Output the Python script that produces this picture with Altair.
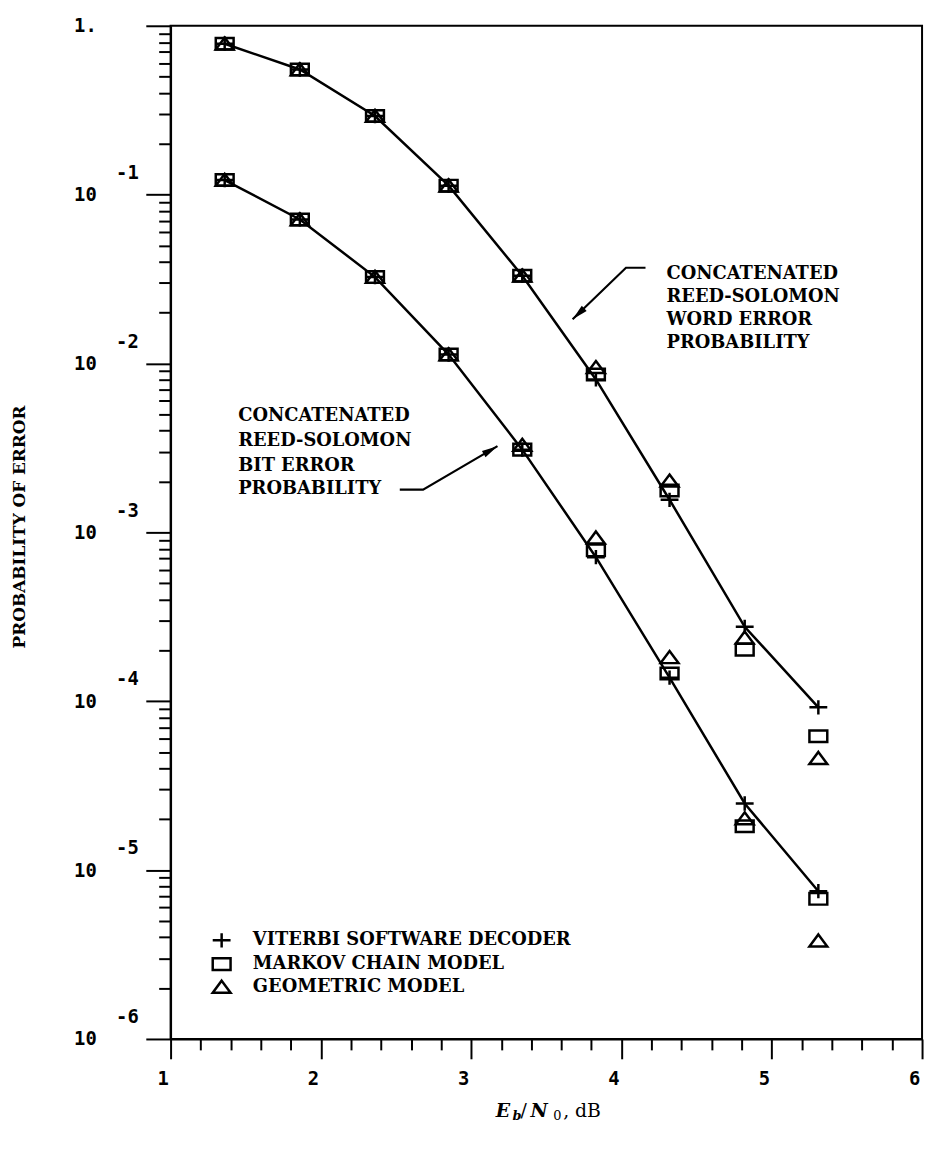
import altair as alt
import pandas as pd

# ---------------- data ----------------
ebn0 = [1.36, 1.86, 2.36, 2.85, 3.34, 3.83, 4.32, 4.82, 5.31]

word_viterbi = [0.783, 0.551, 0.292, 0.113, 0.0331, 8.05e-3, 1.56e-3, 2.76e-4, 9.2e-5]
word_markov = [0.783, 0.551, 0.292, 0.113, 0.0331, 8.6e-3, 1.77e-3, 2.02e-4, 6.2e-5]
word_geometric = [0.783, 0.551, 0.292, 0.113, 0.0331, 9.5e-3, 2.02e-3, 2.38e-4, 4.6e-5]

bit_viterbi = [0.122, 0.0713, 0.0325, 0.0113, 3.09e-3, 7.13e-4, 1.38e-4, 2.48e-5, 7.5e-6]
bit_markov = [0.122, 0.0713, 0.0325, 0.0113, 3.09e-3, 7.83e-4, 1.46e-4, 1.82e-5, 6.76e-6]
bit_geometric = [0.122, 0.0713, 0.0325, 0.0113, 3.29e-3, 9.3e-4, 1.82e-4, 2.02e-5, 3.82e-6]

models = ["VITERBI SOFTWARE DECODER", "MARKOV CHAIN MODEL", "GEOMETRIC MODEL"]

# annotations (data units)
word_note_lines = ["CONCATENATED", "REED-SOLOMON", "WORD ERROR", "PROBABILITY"]
word_note_x = 4.30
word_note_y = [0.0340, 0.0246, 0.0180, 0.0132]
bit_note_lines = ["CONCATENATED", "REED-SOLOMON", "BIT ERROR", "PROBABILITY"]
bit_note_x = 1.45
bit_note_y = [4.86e-3, 3.47e-3, 2.47e-3, 1.81e-3]

word_arrow_x = [4.16, 4.03, 3.675]
word_arrow_y = [0.0369, 0.0369, 0.0183]
word_arrow_angle = 227
bit_arrow_x = [2.525, 2.68, 3.175]
bit_arrow_y = [1.79e-3, 1.79e-3, 3.24e-3]
bit_arrow_angle = 60

# axis tick labels
y_exp_labels = ["-1", "-2", "-3", "-4", "-5", "-6"]
y_exp_values = [1e-1, 1e-2, 1e-3, 1e-4, 1e-5, 1e-6]

# ---------------- tables ----------------
series = {
    ("word", models[0]): word_viterbi,
    ("word", models[1]): word_markov,
    ("word", models[2]): word_geometric,
    ("bit", models[0]): bit_viterbi,
    ("bit", models[1]): bit_markov,
    ("bit", models[2]): bit_geometric,
}
rows = []
for (curve, model), vals in series.items():
    for x, p in zip(ebn0, vals):
        rows.append({"x": x, "p": p, "curve": curve, "model": model})
df = pd.DataFrame(rows)

notes = pd.DataFrame(
    [{"x": word_note_x, "p": y, "t": t} for t, y in zip(word_note_lines, word_note_y)]
    + [{"x": bit_note_x, "p": y, "t": t} for t, y in zip(bit_note_lines, bit_note_y)]
)
arrows = pd.DataFrame(
    [{"a": "word", "i": i, "x": x, "p": y} for i, (x, y) in enumerate(zip(word_arrow_x, word_arrow_y))]
    + [{"a": "bit", "i": i, "x": x, "p": y} for i, (x, y) in enumerate(zip(bit_arrow_x, bit_arrow_y))]
)
heads = pd.DataFrame([
    {"x": word_arrow_x[-1], "p": word_arrow_y[-1], "ang": word_arrow_angle},
    {"x": bit_arrow_x[-1], "p": bit_arrow_y[-1], "ang": bit_arrow_angle},
])
exps = pd.DataFrame({"p": y_exp_values, "t": y_exp_labels})

# ---------------- scales / axes ----------------
PLUS = "M-1,0H1M0,-0.8V0.8"
RECT = "M-1,-0.65H1V0.65H-1Z"
TRI = "M0,-0.7L1,0.65H-1Z"
HEAD = "M0,0L0.45,2L-0.45,2Z"

MONO = "DejaVu Sans Mono"
SERIF = "DejaVu Serif"

y_ticks = [10.0 ** k for k in range(-6, 1)] + [m * 10.0 ** k for k in range(-6, 0) for m in range(2, 10)]
x_ticks = [round(1 + 0.2 * i, 2) for i in range(26)]

is_decade = "abs(log(datum.value)/LN10 - round(log(datum.value)/LN10)) < 0.001"
is_int = "abs(datum.value - round(datum.value)) < 0.001"

xscale = alt.Scale(domain=[1, 6], nice=False, zero=False)
yscale = alt.Scale(type="log", domain=[1e-6, 1], nice=False)

xaxis = alt.Axis(
    values=x_ticks, title=None, grid=False,
    labelExpr=f"{is_int} ? format(round(datum.value), 'd') : ''",
    tickSize={"condition": {"test": is_int, "value": 20}, "value": 11},
    tickColor="black", tickWidth=2, domainColor="black", domainWidth=2,
    labelFont=MONO, labelFontWeight="bold", labelFontSize=19, labelColor="black",
    labelPadding=11, labelOffset=-8, labelOverlap=False, labelFlush=False, labelBound=False,
)
yaxis = alt.Axis(
    values=y_ticks, grid=False,
    labelExpr=f"datum.value > 0.999 ? '1.' : ({is_decade} ? '10' : '')",
    tickSize={"condition": {"test": is_decade, "value": 25}, "value": 12},
    tickColor="black", tickWidth=2, domainColor="black", domainWidth=2,
    labelFont=MONO, labelFontWeight="bold", labelFontSize=19, labelColor="black",
    labelPadding=50, labelOverlap=False, labelFlush=False, labelBound=False,
    labelAlign="right", labelBaseline="middle",
    title="PROBABILITY OF ERROR", titleFont=SERIF, titleFontSize=17, titleFontWeight="bold",
    titleColor="black", titleAngle=270, titleX=-152, titleY=505, titleAlign="center", titleBaseline="middle",
)

X = alt.X("x:Q", scale=xscale, axis=xaxis)
Y = alt.Y("p:Q", scale=yscale, axis=yaxis)

lines = alt.Chart(df).transform_filter(alt.datum.model == models[0]).mark_line(
    color="black", strokeWidth=2.5
).encode(x=X, y=Y, detail="curve:N", order="x:Q")

points = alt.Chart(df).mark_point(
    filled=False, color="black", strokeWidth=2.5, size=324, opacity=1
).encode(
    x=X, y=Y,
    shape=alt.Shape(
        "model:N",
        scale=alt.Scale(domain=models, range=[PLUS, RECT, TRI]),
        legend=alt.Legend(
            orient="none", legendX=41, legendY=912, title=None, padding=0,
            symbolSize=324, symbolStrokeWidth=2.5, symbolStrokeColor="black",
            symbolFillColor="transparent", labelFont=SERIF, labelFontSize=18,
            labelFontWeight="bold", labelColor="black", labelOffset=21, rowPadding=0,
            labelLimit=0,
        ),
    ),
)

note_text = alt.Chart(notes).mark_text(
    align="left", baseline="middle", font=SERIF, fontSize=18, fontWeight="bold", color="black"
).encode(x=X, y=Y, text="t:N")

arrow_lines = alt.Chart(arrows).mark_line(color="black", strokeWidth=2.2).encode(
    x=X, y=Y, detail="a:N", order="i:Q"
)
arrow_heads = alt.Chart(heads).mark_point(
    shape=HEAD, filled=True, color="black", size=256, opacity=1
).encode(x=X, y=Y, angle=alt.Angle("ang:Q", scale=None))

exp_text = alt.Chart(exps).mark_text(
    align="left", baseline="middle", font=MONO, fontWeight="bold", fontSize=19, color="black", dy=-22
).encode(x=alt.value(-55), y=Y, text="t:N")

# x title: E_b/N_0, dB
title_parts = [
    ("E", 328, 19, "italic", "bold", 0),
    ("b", 345, 13, "italic", "bold", 5),
    ("/", 353, 19, "normal", "normal", 0),
    ("N", 363, 19, "italic", "bold", 0),
    ("0", 386, 13, "normal", "normal", 5),
    (",", 396, 19, "normal", "normal", 0),
    ("dB", 408, 19, "normal", "normal", 0),
]
title_layers = []
for t, px, fs, st, fw, dy in title_parts:
    title_layers.append(
        alt.Chart(pd.DataFrame({"t": [t]})).mark_text(
            align="left", baseline="middle", font=SERIF, fontSize=fs, fontStyle=st,
            fontWeight=fw, color="black", dy=dy
        ).encode(x=alt.value(px), y=alt.value(1095), text="t:N")
    )

chart = alt.layer(lines, points, arrow_lines, arrow_heads, note_text, exp_text, *title_layers).properties(
    width=758, height=1022,
    autosize=alt.AutoSizeParams(type="none"),
    padding={"left": 164, "top": 13, "right": 6, "bottom": 100},
    background="white",
).configure_view(stroke="black", strokeWidth=2)

chart.save("out.html", embed_options={"renderer": "svg", "actions": False})
